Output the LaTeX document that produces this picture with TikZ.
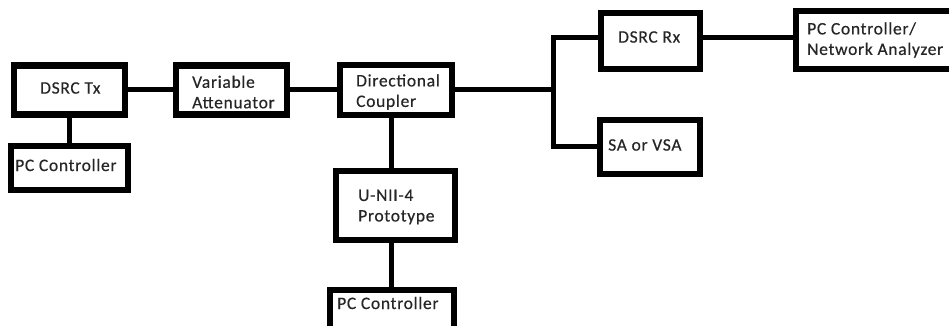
\documentclass[tikz,border=0pt]{standalone}
\usepackage{fontspec}
\setmainfont{Carlito}[LetterSpace=4,FakeBold=0.4]
\begin{document}
\begin{tikzpicture}[x=1pt,y=-1pt,
  box/.style={draw=black, line width=6.5pt, inner sep=0pt, fill=white},
  wire/.style={line width=5pt, draw=black},
  lbl/.style={font=\fontsize{17.5}{20.5}\selectfont, align=left, inner sep=0pt, text=black!85, anchor=west}]
\useasboundingbox (0,0) rectangle (949,326);
\clip (0,0) rectangle (949,326);
% boxes
\node[box, minimum width=111pt, minimum height=49pt] (tx)   at (69.5,90) {};
\node[box, minimum width=117pt, minimum height=44pt] (pc1)  at (69.5,168) {};
\node[box, minimum width=111pt, minimum height=49pt] (va)   at (231.5,90) {};
\node[box, minimum width=112pt, minimum height=50pt] (dc)   at (396,90) {};
\node[box, minimum width=119pt, minimum height=69pt] (unii) at (395.5,205.5) {};
\node[box, minimum width=124pt, minimum height=50pt] (pc3)  at (392,315) {};
\node[box, minimum width=99pt,  minimum height=56pt] (rx)   at (650.5,41) {};
\node[box, minimum width=204pt, minimum height=58pt] (pcna) at (898,40) {};
\node[box, minimum width=100pt, minimum height=54pt] (sa)   at (650,147) {};
% labels
\node[lbl] (ltx)   at (40,88)  {DSRC Tx};
\node[lbl] (lpc1)  at (15,165) {PC Controller};
\node[lbl] (lva)   at (192,92) {Variable\\Attenuator};
\node[lbl] (ldc)   at (356,92) {Directional\\Coupler};
\node[lbl] (lunii) at (358,207) {U-NII-4\\Prototype};
\node[lbl] (lpc3)  at (337,303) {PC Controller};
\node[lbl] (lrx)   at (618,37) {DSRC Rx};
\node[lbl] (lpcna) at (807,40) {PC Controller/\\Network Analyzer};
\node[lbl] (lsa)   at (608,145) {SA or VSA};
% connector helper coordinates
\coordinate (j)  at (553,90);
\coordinate (jt) at (553,38);
\coordinate (jb) at (553,146);
\coordinate (vx) at (391,0);
% connectors
\draw[wire] (tx.south) -- (pc1.north);
\draw[wire] (tx.east) -- (va.west);
\draw[wire] (va.east) -- (dc.west);
\draw[wire] (dc.east |- j) -- (j);
\draw[wire] (rx.west |- jt) -- (jt) -- (jb) -- (sa.west |- jb);
\draw[wire] (rx.east |- jt) -- (pcna.west |- jt);
\draw[wire] (dc.south -| vx) -- (unii.north -| vx);
\draw[wire] (unii.south -| vx) -- (pc3.north -| vx);
\end{tikzpicture}
\end{document}
